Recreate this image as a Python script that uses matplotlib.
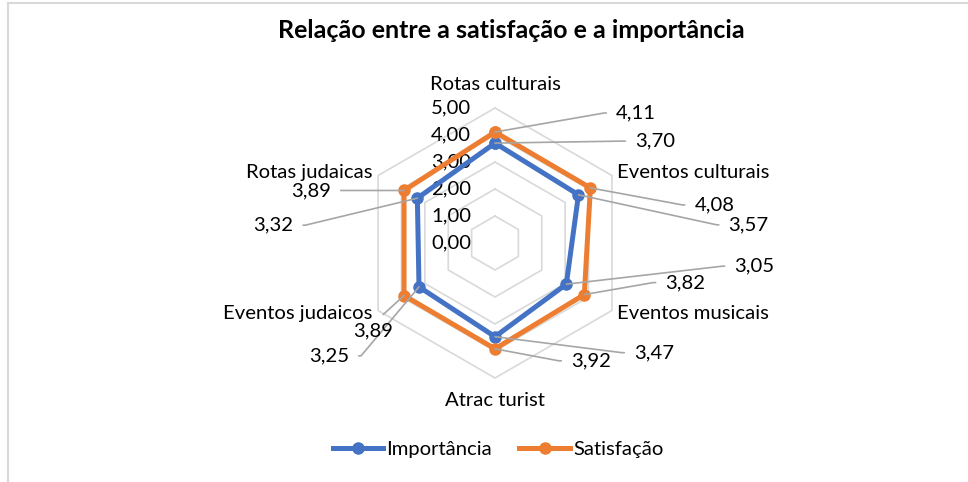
import numpy as np
import matplotlib.pyplot as plt
from matplotlib.lines import Line2D

categorias = ['Rotas culturais', 'Eventos culturais', 'Eventos musicais',
              'Atrac turist', 'Eventos judaicos', 'Rotas judaicas']
importancia = [3.70, 3.57, 3.05, 3.47, 3.25, 3.32]
satisfacao = [4.11, 4.08, 3.82, 3.92, 3.89, 3.89]
niveis = [0, 1, 2, 3, 4, 5]

AZUL = '#4472C4'
LARANJA = '#ED7D31'
CINZA = '#D9D9D9'
GUIA = '#A6A6A6'
TAM = 14.6

plt.rcParams['font.family'] = ['Lato', 'DejaVu Sans']


def fmt(v):
    return f'{v:.2f}'.replace('.', ',')


W, H = 968, 482
fig = plt.figure(figsize=(W / 100, H / 100), dpi=100)

# centro e raio do radar em pixels
cx, cy, R = 495, 243, 135
ax = fig.add_axes([(cx - R) / W, (H - cy - R) / H, 2 * R / W, 2 * R / H],
                  projection='polar')
ax.set_theta_offset(np.pi / 2)
ax.set_theta_direction(-1)
ax.set_ylim(0, 5)
ax.set_axis_off()

n = len(categorias)
ang = np.arange(n) * 2 * np.pi / n
ang_f = np.append(ang, ang[0])

# grelha hexagonal
for k in niveis[1:]:
    ax.plot(ang_f, [k] * (n + 1), color=CINZA, lw=1.2, zorder=1, clip_on=False)

for k in niveis:
    ax.annotate(fmt(k), (0, k), xytext=(-24, 0), textcoords='offset pixels',
                ha='right', va='center', fontsize=TAM, color='#000000')

# rótulos das categorias
desl_cat = [(0, 23, 'center'), (5, 3, 'left'), (5, -3, 'left'),
            (0, -23, 'center'), (-6, -3, 'right'), (-6, 3, 'right')]
for a, nome, (dx, dy, ha) in zip(ang, categorias, desl_cat):
    ax.annotate(nome, (a, 5), xytext=(dx, dy), textcoords='offset pixels',
                ha=ha, va='center', fontsize=TAM)

series = [(importancia, AZUL, 'Importância'), (satisfacao, LARANJA, 'Satisfação')]
for vals, cor, nome in series:
    ax.plot(ang_f, list(vals) + [vals[0]], color=cor, lw=3.6, marker='o',
            ms=8, label=nome, zorder=3, clip_on=False)

# deslocamentos (px) das etiquetas de dados em relação ao ponto
desl_imp = [(140, 2), (150, -30), (168, 18), (139, -16), (-70, -69), (-124, -27)]
desl_sat = [(121, 19), (104, -17), (81, 12), (76, -12), (-31, -35), (-73, 0)]

for vals, desl in [(importancia, desl_imp), (satisfacao, desl_sat)]:
    for i, (v, (dx, dy)) in enumerate(zip(vals, desl)):
        if vals is satisfacao and i == 4:
            estilo, ha, rel = 'arc3', 'center', (0.55, 1)
        else:
            if dx > 0:
                ha, rel, canto = 'left', (0, 0.5), (dx - 12, dy)
            else:
                ha, rel, canto = 'right', (1, 0.5), (dx + 12, dy)
            if abs(dy) < 1:
                estilo = 'arc3'
            else:
                angB = np.degrees(np.arctan2(canto[1], canto[0]))
                estilo = f'angle,angleA=0,angleB={angB:.2f},rad=0'
        ax.annotate(fmt(v), (ang[i], v), xytext=(dx, dy),
                    textcoords='offset pixels', ha=ha, va='center',
                    fontsize=TAM, zorder=4,
                    arrowprops=dict(arrowstyle='-', color=GUIA, lw=1.2,
                                    relpos=rel, shrinkA=5, shrinkB=0,
                                    connectionstyle=estilo))

fig.text(511 / W, 1 - 30 / H, 'Relação entre a satisfação e a importância',
         ha='center', va='center', fontsize=18, fontweight='bold')

fig.legend(loc='center', bbox_to_anchor=(498 / W, 1 - 449 / H), ncol=2,
           frameon=False, fontsize=TAM, handlelength=2.5, handletextpad=0.15,
           columnspacing=1.35)

# moldura (só topo e esquerda visíveis)
fig.add_artist(Line2D([8 / W, 8 / W], [0, 1 - 3 / H], transform=fig.transFigure,
                      color=CINZA, lw=1.5))
fig.add_artist(Line2D([8 / W, 1], [1 - 3 / H, 1 - 3 / H], transform=fig.transFigure,
                      color=CINZA, lw=1.5))

fig.savefig('out.png', dpi=100)
